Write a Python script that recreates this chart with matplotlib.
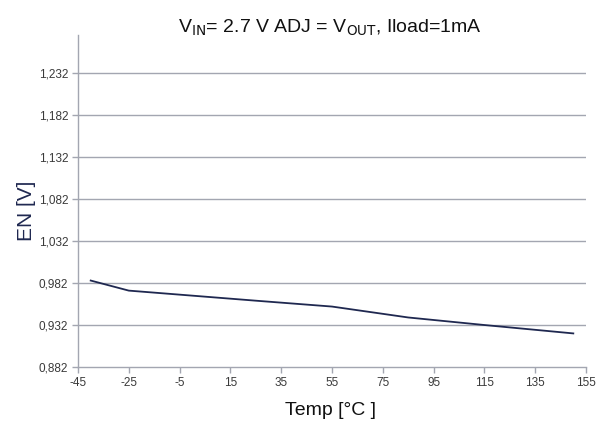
import matplotlib
matplotlib.use("Agg")
import matplotlib.pyplot as plt
import numpy as np

temps = [-40, -25, 0, 25, 55, 85, 115, 150]
en_v = [0.985, 0.973, 0.967, 0.961, 0.954, 0.941, 0.932, 0.922]
xticks = [-45, -25, -5, 15, 35, 55, 75, 95, 115, 135, 155]
yticks = [0.882, 0.932, 0.982, 1.032, 1.082, 1.132, 1.182, 1.232]

plt.rcParams['font.family'] = ['Liberation Sans', 'DejaVu Sans']
fig = plt.figure(figsize=(6.06, 4.25), dpi=100)
ax = fig.add_axes([0.1287, 0.1365, 0.8383, 0.782])
grid_c = '#a3a6b1'
ax.plot(temps, en_v, color='#1f2850', lw=1.3, zorder=3)
ax.set_xlim(-45, 155)
ax.set_ylim(0.882, 1.278)
ax.set_xticks(xticks)
ax.set_xticklabels([str(t) for t in xticks])
ax.set_yticks(yticks)
ax.set_yticklabels([f"{v:.3f}".replace('.', ',') for v in yticks])
for y in yticks[1:]:
    ax.axhline(y, color=grid_c, lw=1.0, zorder=1)
for s in ['top', 'right']:
    ax.spines[s].set_visible(False)
for s in ['left', 'bottom']:
    ax.spines[s].set_color(grid_c)
    ax.spines[s].set_linewidth(1.0)
ax.tick_params(axis='both', colors=grid_c, labelcolor='#3a3a3a', labelsize=8.5, length=4, width=1.0, direction='out')
ax.tick_params(axis='x', pad=3)
ax.tick_params(axis='y', pad=3)
fig.text(0.545, 0.935, r"V$_{\mathrm{IN}}$= 2.7 V ADJ = V$_{\mathrm{OUT}}$, Iload=1mA",
         ha='center', va='center', fontsize=14, color='#111111')
fig.text(0.043, 0.505, "EN [V]", rotation=90, ha='center', va='center', fontsize=15, color='#1f2850')
fig.text(0.545, 0.035, "Temp [°C ]", ha='center', va='center', fontsize=14, color='#111111')
fig.savefig("out.png", dpi=100)
